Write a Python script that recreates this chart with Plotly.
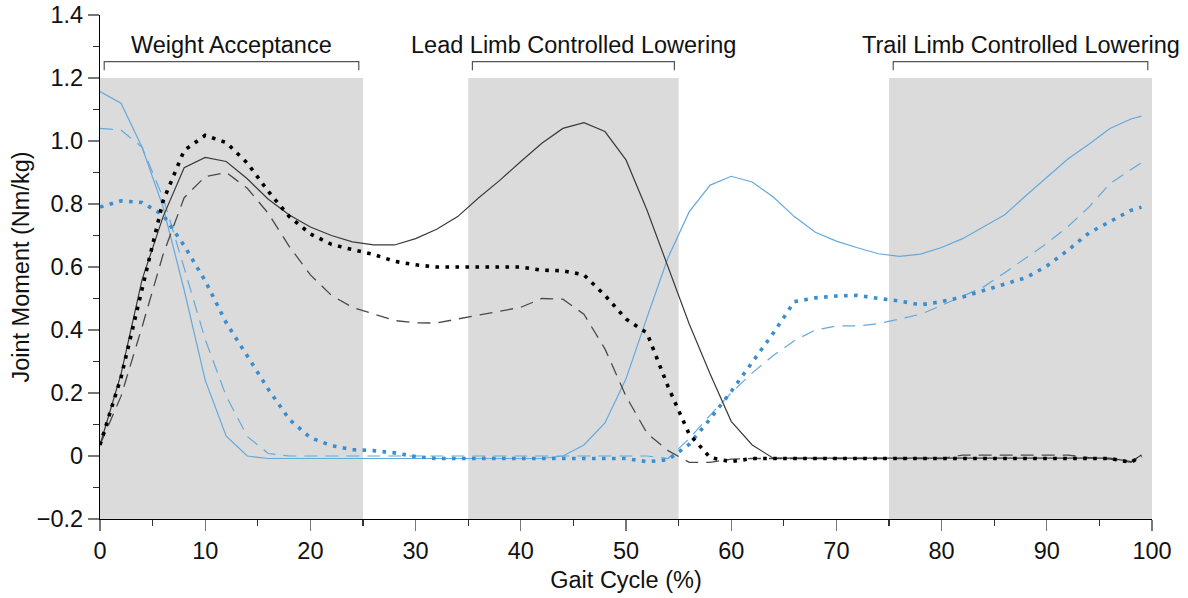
import plotly.graph_objects as go

# ---- data ----
gait_pct = [0, 2, 4, 6, 8, 10, 12, 14, 16, 18, 20, 22, 24, 26, 28, 30, 32, 34, 36, 38,
            40, 42, 44, 46, 48, 50, 52, 54, 56, 58, 60, 62, 64, 66, 68, 70, 72, 74, 76, 78,
            80, 82, 84, 86, 88, 90, 92, 94, 96, 98, 99]

black_solid = [0.035, 0.26, 0.56, 0.76, 0.915, 0.948, 0.935, 0.88, 0.815, 0.765,
               0.727, 0.70, 0.68, 0.67, 0.67, 0.69, 0.72, 0.76, 0.82, 0.875,
               0.935, 0.993, 1.04, 1.058, 1.03, 0.94, 0.78, 0.60, 0.42, 0.26,
               0.11, 0.035, -0.007, -0.007, -0.007, -0.007, -0.007, -0.007, -0.007, -0.007,
               -0.007, -0.007, -0.007, -0.007, -0.007, -0.007, -0.007, -0.007, -0.007, -0.018, 0.003]

black_dashed = [0.035, 0.19, 0.41, 0.64, 0.82, 0.887, 0.90, 0.85, 0.77, 0.665,
                0.575, 0.51, 0.472, 0.45, 0.43, 0.423, 0.422, 0.435, 0.448, 0.46,
                0.472, 0.50, 0.498, 0.45, 0.34, 0.19, 0.072, 0.017, -0.02, -0.02,
                -0.01, -0.008, -0.008, -0.008, -0.008, -0.008, -0.008, -0.008, -0.008, -0.008,
                -0.008, 0.003, 0.003, 0.003, 0.003, 0.003, 0.003, -0.005, -0.01, -0.02, 0.0]

black_dotted = [0.035, 0.25, 0.53, 0.81, 0.97, 1.018, 0.995, 0.93, 0.84, 0.76,
                0.705, 0.672, 0.655, 0.64, 0.618, 0.607, 0.60, 0.60, 0.60, 0.60,
                0.60, 0.59, 0.588, 0.575, 0.51, 0.435, 0.39, 0.22, 0.07, -0.005,
                -0.018, -0.008, -0.008, -0.008, -0.008, -0.008, -0.008, -0.008, -0.008, -0.008,
                -0.008, -0.008, -0.008, -0.008, -0.008, -0.008, -0.008, -0.008, -0.008, -0.02, 0.0]

blue_solid = [1.157, 1.12, 0.98, 0.79, 0.527, 0.241, 0.063, 0.0, -0.008, -0.008,
              -0.008, -0.008, -0.008, -0.008, -0.008, -0.008, -0.008, -0.008, -0.008, -0.008,
              -0.008, -0.008, 0.0, 0.035, 0.105, 0.245, 0.44, 0.63, 0.775, 0.86,
              0.888, 0.87, 0.822, 0.76, 0.71, 0.682, 0.661, 0.642, 0.634, 0.641,
              0.662, 0.69, 0.728, 0.766, 0.826, 0.883, 0.943, 0.99, 1.04, 1.07, 1.079]

blue_dashed = [1.04, 1.035, 0.98, 0.82, 0.597, 0.37, 0.19, 0.062, 0.008, 0.0,
               0.0, 0.0, 0.0, 0.0, 0.0, 0.0, 0.0, 0.0, 0.0, 0.0,
               0.0, 0.0, 0.0, 0.0, 0.0, 0.0, 0.0, -0.008, 0.055, 0.13,
               0.2, 0.264, 0.319, 0.366, 0.40, 0.413, 0.413, 0.42, 0.434, 0.45,
               0.478, 0.507, 0.537, 0.582, 0.628, 0.675, 0.728, 0.79, 0.865, 0.91, 0.931]

blue_dotted = [0.79, 0.81, 0.805, 0.765, 0.668, 0.556, 0.423, 0.315, 0.212, 0.116,
               0.058, 0.033, 0.02, 0.017, 0.01, -0.002, -0.008, -0.008, -0.008, -0.008,
               -0.008, -0.008, -0.008, -0.008, -0.008, -0.008, -0.018, -0.012, 0.037, 0.118,
               0.205, 0.297, 0.39, 0.49, 0.502, 0.508, 0.51, 0.50, 0.492, 0.48,
               0.49, 0.505, 0.525, 0.545, 0.566, 0.603, 0.653, 0.708, 0.745, 0.78, 0.79]

phase_labels = ["Weight Acceptance", "Lead Limb Controlled Lowering", "Trail Limb Controlled Lowering"]
phase_start = [0, 35, 75]
phase_end = [25, 55, 100]

y_tickvals = [-0.2, 0, 0.2, 0.4, 0.6, 0.8, 1.0, 1.2, 1.4]
y_ticktext = ["\u22120.2", "0", "0.2", "0.4", "0.6", "0.8", "1.0", "1.2", "1.4"]
x_tickvals = [0, 10, 20, 30, 40, 50, 60, 70, 80, 90, 100]
x_ticktext = ["0", "10", "20", "30", "40", "50", "60", "70", "80", "90", "100"]

# ---- figure ----
FONT = "Liberation Sans, Arial, Helvetica, sans-serif"
FS = 23.5
BLUE_LIGHT = "#64a9dc"
BLUE_DOT = "#3a8dcf"

fig = go.Figure()

series = [
    (blue_solid, dict(color=BLUE_LIGHT, width=1.2)),
    (blue_dashed, dict(color=BLUE_LIGHT, width=1.2, dash="13px,8px")),
    (black_dashed, dict(color="#4a4a4a", width=1.3, dash="13px,8px")),
    (black_solid, dict(color="#3a3a3a", width=1.2)),
    (blue_dotted, dict(color=BLUE_DOT, width=3.6, dash="3.6px,6.4px")),
    (black_dotted, dict(color="#000000", width=3.6, dash="3.6px,6.4px")),
]
for ys, ln in series:
    fig.add_trace(go.Scatter(x=gait_pct, y=ys, mode="lines", line=ln,
                             showlegend=False, hoverinfo="skip"))

shapes = []
annotations = []
for lab, s, e in zip(phase_labels, phase_start, phase_end):
    shapes.append(dict(type="rect", xref="x", yref="y", x0=s, x1=e, y0=-0.2, y1=1.2,
                       fillcolor="#dbdbdb", line=dict(width=0), layer="below"))
    bx0, bx1 = s + 0.4, e - 0.4
    shapes.append(dict(type="path", xref="x", yref="y",
                       path=f"M {bx0},1.225 L {bx0},1.252 L {bx1},1.252 L {bx1},1.225",
                       line=dict(color="#555555", width=1.2), layer="above"))
    annotations.append(dict(x=(s + e) / 2, y=1.305, xref="x", yref="y", text=lab,
                            showarrow=False, xanchor="center", yanchor="middle",
                            font=dict(family=FONT, size=FS, color="#111111")))

fig.update_layout(
    width=1188, height=598,
    margin=dict(l=100, r=36, t=15, b=79, autoexpand=False),
    paper_bgcolor="white", plot_bgcolor="white",
    font=dict(family=FONT, size=FS, color="#111111"),
    shapes=shapes, annotations=annotations,
    showlegend=False,
)
fig.update_xaxes(
    range=[0, 100], showgrid=False, zeroline=False, automargin=False,
    showline=True, linecolor="#000000", linewidth=1.2,
    ticks="outside", ticklen=11, tickwidth=1.2, tickcolor="#777777",
    tickvals=x_tickvals, ticktext=x_ticktext, ticklabeloverflow="allow",
    minor=dict(ticks="outside", dtick=5, ticklen=6, tickwidth=1.2, tickcolor="#333333", showgrid=False),
    title=dict(text="Gait Cycle (%)", standoff=8, font=dict(size=FS)),
    tickfont=dict(size=FS),
)
fig.update_yaxes(
    range=[-0.2, 1.4], showgrid=False, zeroline=False, automargin=False,
    showline=True, linecolor="#000000", linewidth=1.2,
    ticks="outside", ticklen=11, tickwidth=1.2, tickcolor="#777777",
    tickvals=y_tickvals, ticktext=y_ticktext, ticklabeloverflow="allow",
    minor=dict(ticks="outside", dtick=0.1, ticklen=6, tickwidth=1.2, tickcolor="#333333", showgrid=False),
    title=dict(text="Joint Moment (Nm/kg)", standoff=0, font=dict(size=FS)),
    tickfont=dict(size=FS),
)

# remove the default 8px page margin so the figure fills the window exactly
fig.write_html("out.html",
               config={"displayModeBar": False, "staticPlot": True},
               post_script="document.body.style.margin='0';document.body.style.overflow='hidden';")
